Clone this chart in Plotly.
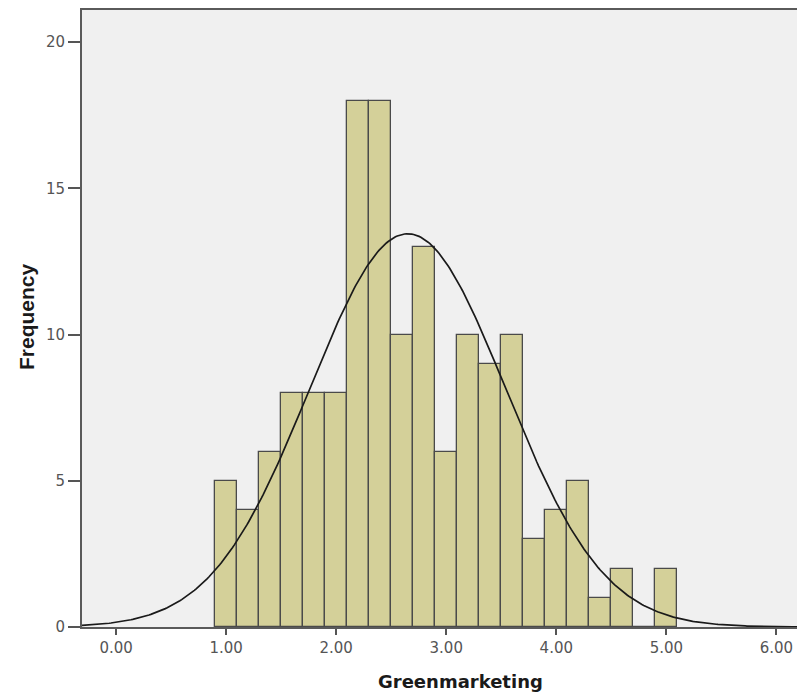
import numpy as np
import plotly.graph_objects as go

# Histogram bins (centers) and frequencies
bin_centers = [1.0, 1.2, 1.4, 1.6, 1.8, 2.0, 2.2, 2.4, 2.6, 2.8, 3.0,
               3.2, 3.4, 3.6, 3.8, 4.0, 4.2, 4.4, 4.6, 4.8, 5.0]
frequencies = [5, 4, 6, 8, 8, 8, 18, 18, 10, 13, 6,
               10, 9, 10, 3, 4, 5, 1, 2, 0, 2]
bin_width = 0.2

# Normal curve parameters (SPSS fitted curve)
curve_mean = 2.65
curve_sd = 0.89
n_total = sum(frequencies)

x_tick_vals = [0, 1, 2, 3, 4, 5, 6]
x_tick_text = ["0.00", "1.00", "2.00", "3.00", "4.00", "5.00", "6.00"]
y_tick_vals = [0, 5, 10, 15, 20]

x_range = [-0.31, 6.26]
y_range = [0, 21.1]

xs = np.linspace(x_range[0], x_range[1], 400)
ys = n_total * bin_width / (curve_sd * np.sqrt(2 * np.pi)) * np.exp(-0.5 * ((xs - curve_mean) / curve_sd) ** 2)

fig = go.Figure()
fig.add_trace(go.Bar(
    x=bin_centers, y=frequencies, width=bin_width,
    marker=dict(color="#d4d099", line=dict(color="#4a4a4a", width=1.3)),
    hoverinfo="x+y", showlegend=False,
))
fig.add_trace(go.Scatter(
    x=xs, y=ys, mode="lines",
    line=dict(color="#1a1a1a", width=1.7),
    hoverinfo="skip", showlegend=False,
))

tick_font = dict(family="DejaVu Sans", size=15, color="#555555")

# page body has an 8px margin: figure is offset by (8, 8)
fig.update_layout(
    width=797, height=689,
    margin=dict(l=74, r=0, t=2, b=70),
    paper_bgcolor="white",
    plot_bgcolor="#f0f0f0",
    bargap=0,
    xaxis=dict(
        range=x_range, tickvals=x_tick_vals, ticktext=x_tick_text,
        showgrid=False, zeroline=False,
        showline=True, mirror=True, linecolor="#5a5a5a", linewidth=2,
        ticks="outside", ticklen=6, tickwidth=1.5, tickcolor="#555555",
        tickfont=tick_font,
    ),
    yaxis=dict(
        range=y_range, tickvals=y_tick_vals,
        showgrid=False, zeroline=False,
        showline=True, linecolor="#5a5a5a", linewidth=2,
        ticks="outside", ticklen=12, tickwidth=1.5, tickcolor="#555555",
        tickfont=tick_font,
    ),
    annotations=[
        dict(text="<b>Greenmarketing</b>", xref="paper", yref="paper",
             x=(460 - 82) / 723, y=(627 - 682) / 617,
             xanchor="center", yanchor="middle", showarrow=False,
             font=dict(family="DejaVu Sans", size=18, color="#1a1a1a")),
        dict(text="<b>Frequency</b>", xref="paper", yref="paper",
             x=(26 - 82) / 723, y=(627 - 317) / 617, textangle=-90,
             xanchor="center", yanchor="middle", showarrow=False,
             font=dict(family="Liberation Sans", size=21, color="#1a1a1a")),
    ],
)

fig.write_html("out.html")
